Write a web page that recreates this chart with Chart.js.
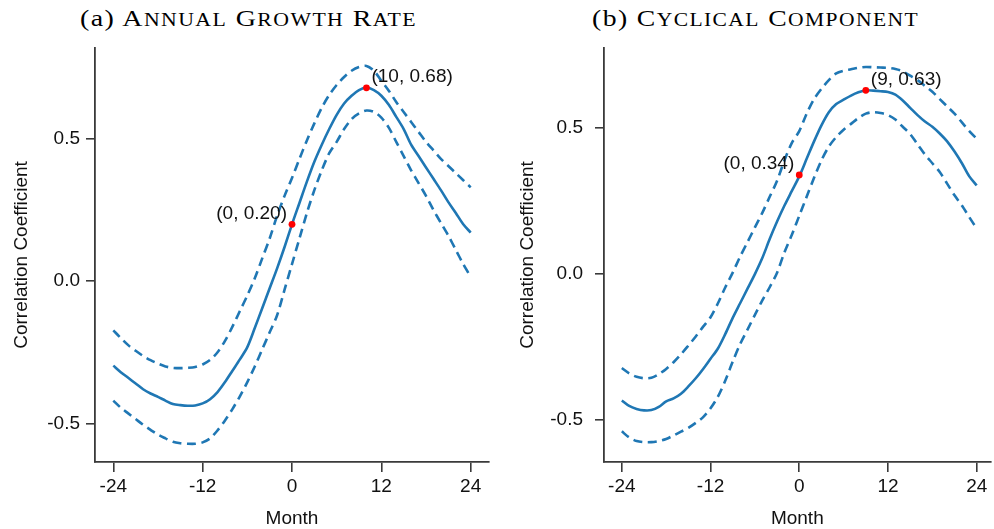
<!DOCTYPE html>
<html><head><meta charset="utf-8">
<script src="https://cdn.jsdelivr.net/npm/chart.js@4.4.1/dist/chart.umd.min.js"></script>
<style>
html,body{margin:0;padding:0;background:#fff;width:994px;height:529px;overflow:hidden;}
#wrap{position:relative;width:994px;height:529px;}
canvas{position:absolute;top:0;}
.title{position:absolute;top:7px;left:0;font-family:"Liberation Serif","DejaVu Serif",serif;font-size:23.5px;color:#000;white-space:nowrap;line-height:23.5px;letter-spacing:1.2px;transform-origin:0 0;display:inline-block;}
.title .sc{font-size:18.3px;}
</style></head><body>
<div id="wrap">
<div class="title" id="ta">(a) A<span class="sc">NNUAL</span> G<span class="sc">ROWTH</span> R<span class="sc">ATE</span></div>
<div class="title" id="tb">(b) C<span class="sc">YCLICAL</span> C<span class="sc">OMPONENT</span></div>
<canvas id="c1" width="497" height="529" style="left:0"></canvas>
<canvas id="c2" width="497" height="529" style="left:497px"></canvas>
</div>
<script>
// ---------- DATA ----------
const months = [-24,-23,-22,-21,-20,-19,-18,-17,-16,-15,-14,-13,-12,-11,-10,-9,-8,-7,-6,-5,-4,-3,-2,-1,0,
  1,2,3,4,5,6,7,8,9,10,11,12,13,14,15,16,17,18,19,20,21,22,23,24];
const xTicks = [-24,-12,0,12,24];
const yTicks = [-0.5,0,0.5];

// (a) Annual growth rate
const growthCorr = [-0.297,-0.32,-0.34,-0.36,-0.38,-0.395,-0.407,-0.42,-0.432,-0.436,-0.438,-0.437,-0.43,-0.415,-0.39,-0.355,-0.315,-0.275,-0.232,-0.165,-0.095,-0.025,0.045,0.12,0.20,
  0.275,0.35,0.42,0.48,0.535,0.585,0.625,0.652,0.672,0.68,0.672,0.652,0.62,0.578,0.535,0.48,0.44,0.40,0.36,0.32,0.278,0.24,0.20,0.171];
const growthUpper = [-0.173,-0.2,-0.225,-0.245,-0.263,-0.278,-0.29,-0.3,-0.305,-0.306,-0.305,-0.302,-0.293,-0.277,-0.25,-0.21,-0.16,-0.105,-0.05,0.01,0.08,0.15,0.23,0.3,0.363,
  0.43,0.495,0.555,0.61,0.655,0.69,0.718,0.74,0.753,0.757,0.74,0.705,0.67,0.63,0.595,0.56,0.525,0.49,0.46,0.43,0.405,0.38,0.355,0.33];
const growthLower = [-0.42,-0.445,-0.465,-0.485,-0.505,-0.523,-0.54,-0.553,-0.565,-0.57,-0.572,-0.572,-0.567,-0.553,-0.525,-0.49,-0.45,-0.405,-0.355,-0.3,-0.24,-0.18,-0.12,-0.03,0.06,
  0.15,0.24,0.32,0.39,0.45,0.49,0.535,0.57,0.59,0.60,0.595,0.575,0.54,0.49,0.44,0.39,0.345,0.30,0.25,0.205,0.16,0.11,0.06,0.015];
const growthMarkX = [0,10];
const growthMarkY = [0.20,0.68];

// (b) Cyclical component
const cycleCorr = [-0.433,-0.452,-0.462,-0.467,-0.466,-0.455,-0.436,-0.426,-0.41,-0.385,-0.357,-0.325,-0.29,-0.255,-0.205,-0.15,-0.1,-0.05,0.0,0.055,0.12,0.18,0.235,0.285,0.335,
  0.395,0.455,0.51,0.555,0.583,0.598,0.612,0.623,0.63,0.629,0.627,0.624,0.615,0.595,0.57,0.545,0.523,0.505,0.482,0.455,0.42,0.38,0.335,0.304];
const cycleUpper = [-0.322,-0.34,-0.352,-0.357,-0.355,-0.343,-0.325,-0.302,-0.275,-0.245,-0.214,-0.18,-0.148,-0.1,-0.045,0.005,0.06,0.11,0.16,0.21,0.265,0.32,0.39,0.45,0.49,
  0.55,0.6,0.635,0.665,0.688,0.697,0.702,0.707,0.71,0.709,0.708,0.707,0.703,0.695,0.68,0.665,0.645,0.625,0.6,0.575,0.55,0.52,0.49,0.464];
const cycleLower = [-0.539,-0.56,-0.572,-0.576,-0.576,-0.572,-0.565,-0.553,-0.54,-0.527,-0.51,-0.49,-0.46,-0.42,-0.365,-0.3,-0.24,-0.19,-0.14,-0.09,-0.045,0.005,0.075,0.135,0.20,
  0.265,0.33,0.39,0.437,0.47,0.495,0.515,0.535,0.55,0.555,0.552,0.545,0.53,0.505,0.48,0.445,0.41,0.38,0.35,0.31,0.27,0.235,0.195,0.156];
const cycleMarkX = [0,9];
const cycleMarkY = [0.34,0.63];

// ---------- TITLES (fit to reference width) ----------
function fitTitle(id, centerX, targetW){
  const el = document.getElementById(id);
  const w = el.getBoundingClientRect().width;
  el.style.transform = 'scaleX(' + (targetW / w) + ')';
  el.style.left = (centerX - targetW / 2) + 'px';
}
fitTitle('ta', 248.5, 337);
fitTitle('tb', 755, 327);

// ---------- STYLE ----------
const BLUE = '#1f77b4';
const AXIS = '#3a3a3a';
const FONT = {family:'"Liberation Sans", Arial, Helvetica, sans-serif', size:19, lineHeight:1};
const TFONT = {family:'"Liberation Sans", Arial, Helvetica, sans-serif', size:19, lineHeight:1};

const pts = (xs, ys) => xs.map((x,i)=>({x:x, y:ys[i]}));

const annotPlugin = {
  id:'annot',
  afterDatasetsDraw(chart, args, opts){
    const ctx = chart.ctx, xs = chart.scales.x, ys = chart.scales.y;
    ctx.save();
    ctx.font = '19px "Liberation Sans", Arial, sans-serif';
    ctx.fillStyle = '#111';
    ctx.textBaseline = 'middle';
    opts.mx.forEach((mx,i)=>{
      const px = xs.getPixelForValue(mx), py = ys.getPixelForValue(opts.my[i]);
      const txt = '(' + mx + ', ' + opts.my[i].toFixed(2) + ')';
      if (opts.align[i] === 'right') { ctx.textAlign='right'; ctx.fillText(txt, px-5, py-11); }
      else { ctx.textAlign='left'; ctx.fillText(txt, px+5, py-11); }
    });
    ctx.restore();
  }
};

function makeChart(id, corr, upper, lower, mx, my, cfg){
  return new Chart(document.getElementById(id), {
    type:'line',
    data:{datasets:[
      {data:pts(mx,my), showLine:false, pointRadius:3.4, pointBackgroundColor:'#ff0000', pointBorderWidth:0, pointHoverRadius:3.4},
      {data:pts(months,corr), borderColor:BLUE, borderWidth:2.6, pointRadius:0, tension:0.3, fill:false},
      {data:pts(months,upper), borderColor:BLUE, borderWidth:2.6, borderDash:[9,5.5], pointRadius:0, tension:0.3, fill:false},
      {data:pts(months,lower), borderColor:BLUE, borderWidth:2.6, borderDash:[9,5.5], pointRadius:0, tension:0.3, fill:false}
    ]},
    options:{
      responsive:false, animation:false, devicePixelRatio:1,
      layout:{padding:{top:48, right:cfg.padRight, bottom:0, left:0}},
      plugins:{legend:{display:false}, tooltip:{enabled:false}, title:{display:false},
        annot:{mx:mx, my:my, align:['right','left']}},
      scales:{
        x:{type:'linear', min:cfg.xmin, max:cfg.xmax,
          afterBuildTicks:s=>{s.ticks = xTicks.map(v=>({value:v}));},
          afterFit:s=>{s.height = 67;},
          ticks:{font:FONT, color:'#111', padding:5, maxRotation:0, callback:v=>String(v)},
          grid:{drawOnChartArea:false, tickLength:10, color:AXIS, lineWidth:1.6},
          border:{color:AXIS, width:1.8},
          title:{display:true, text:'Month', font:TFONT, color:'#111', padding:{top:0,bottom:0.5}}
        },
        y:{min:cfg.ymin, max:cfg.ymax,
          afterBuildTicks:s=>{s.ticks = yTicks.map(v=>({value:v}));},
          afterFit:s=>{s.width = cfg.yWidth;},
          ticks:{font:FONT, color:'#111', padding:cfg.yPad, callback:v=> v===0 ? '0.0' : v.toFixed(1)},
          grid:{drawOnChartArea:false, tickLength:9, color:AXIS, lineWidth:1.6},
          border:{color:AXIS, width:1.8},
          title:{display:true, text:'Correlation Coefficient', font:TFONT, color:'#111', padding:{top:cfg.yTitlePad,bottom:0}}
        }
      }
    },
    plugins:[annotPlugin]
  });
}

makeChart('c1', growthCorr, growthUpper, growthLower, growthMarkX, growthMarkY,
  {padRight:8, xmin:-26.46, xmax:26.46, ymin:-0.636, ymax:0.820, yWidth:95, yPad:6, yTitlePad:12.5});
makeChart('c2', cycleCorr, cycleUpper, cycleLower, cycleMarkX, cycleMarkY,
  {padRight:0, xmin:-26.41, xmax:25.88, ymin:-0.644, ymax:0.775, yWidth:107, yPad:12, yTitlePad:21.5});
</script>
</body></html>
